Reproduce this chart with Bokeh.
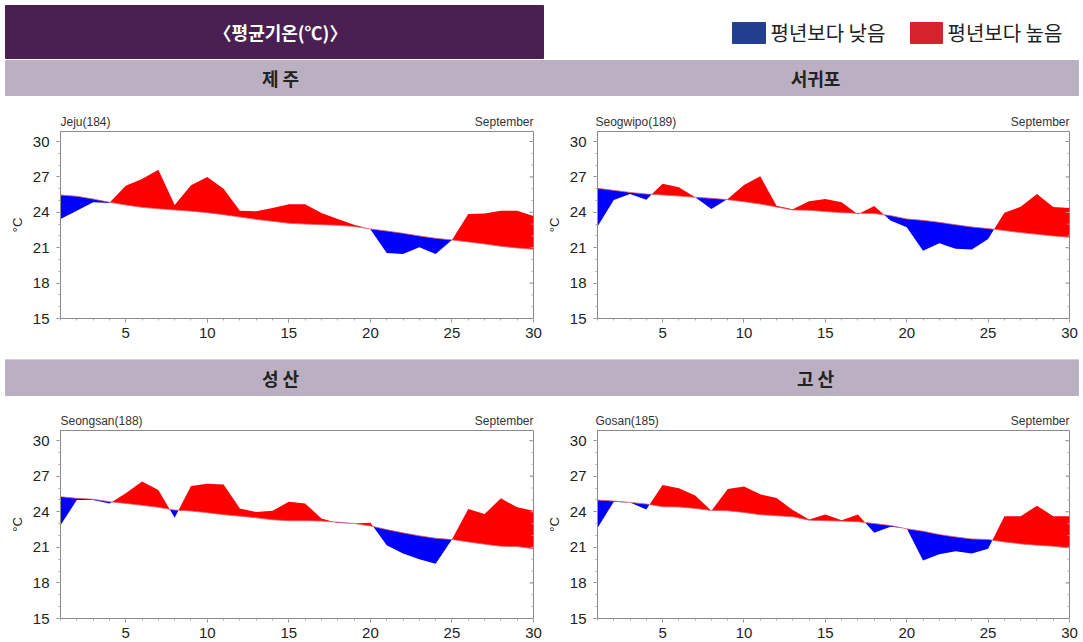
import numpy as np
from bokeh.plotting import figure
from bokeh.layouts import column, row
from bokeh.models import Range1d, FixedTicker
from bokeh.embed import file_html
from bokeh.resources import INLINE
from bokeh.core.properties import value

# ---------------- data ----------------
days = list(range(1, 31))

jeju_obs = [23.43, 24.14, 24.85, 24.80, 26.26, 26.82, 27.60, 24.62, 26.30, 27.00,
            26.00, 24.14, 24.08, 24.37, 24.68, 24.68, 23.94, 23.43, 22.95, 22.56,
            20.55, 20.47, 21.03, 20.47, 21.66, 23.86, 23.89, 24.14, 24.14, 23.69]
jeju_norm = [25.47, 25.36, 25.13, 24.85, 24.62, 24.42, 24.30, 24.20, 24.10, 23.97,
             23.80, 23.60, 23.40, 23.24, 23.07, 23.00, 22.95, 22.90, 22.80, 22.59,
             22.42, 22.22, 22.00, 21.80, 21.66, 21.49, 21.32, 21.12, 20.98, 20.86]

seogwipo_obs = [22.79, 25.05, 25.55, 25.07, 26.43, 26.12, 25.27, 24.28, 25.13, 26.32,
                27.05, 24.55, 24.25, 24.93, 25.13, 24.85, 23.83, 24.54, 23.30, 22.73,
                20.75, 21.37, 20.92, 20.84, 21.74, 23.97, 24.48, 25.55, 24.45, 24.37]
seogwipo_norm = [26.03, 25.86, 25.69, 25.55, 25.47, 25.38, 25.27, 25.19, 25.07, 24.90,
                 24.70, 24.45, 24.20, 24.17, 24.06, 23.97, 23.92, 23.89, 23.72, 23.44,
                 23.32, 23.15, 22.95, 22.76, 22.62, 22.45, 22.28, 22.14, 22.00, 21.88]

seongsan_obs = [22.87, 24.99, 24.99, 24.70, 25.55, 26.54, 25.84, 23.49, 26.18, 26.37,
                26.29, 24.28, 23.97, 24.08, 24.85, 24.70, 23.44, 23.05, 23.01, 23.07,
                21.18, 20.47, 19.99, 19.62, 21.66, 24.23, 23.80, 25.13, 24.37, 24.08]
seongsan_norm = [25.27, 25.13, 25.05, 24.85, 24.70, 24.54, 24.37, 24.14, 24.06, 23.92,
                 23.75, 23.63, 23.49, 23.32, 23.24, 23.24, 23.21, 23.12, 23.01, 22.80,
                 22.50, 22.22, 21.97, 21.77, 21.66, 21.46, 21.26, 21.09, 21.06, 20.89]

gosan_obs = [22.64, 24.85, 24.79, 24.20, 26.26, 25.98, 25.36, 24.08, 25.92, 26.12,
             25.47, 25.16, 24.14, 23.35, 23.77, 23.29, 23.77, 22.22, 22.73, 22.59,
             19.90, 20.41, 20.67, 20.47, 20.89, 23.63, 23.63, 24.51, 23.63, 23.63]
gosan_norm = [24.99, 24.90, 24.79, 24.65, 24.42, 24.40, 24.28, 24.11, 24.08, 23.94,
              23.75, 23.66, 23.58, 23.29, 23.24, 23.21, 23.15, 23.01, 22.84, 22.56,
              22.36, 22.08, 21.88, 21.71, 21.66, 21.46, 21.29, 21.18, 21.09, 20.95]

station_titles = ["제 주", "서귀포", "성 산", "고 산"]
station_labels = ["Jeju(184)", "Seogwipo(189)", "Seongsan(188)", "Gosan(185)"]
month_label = "September"
chart_title = "〈평균기온(℃)〉"
legend_labels = ["평년보다 낮음", "평년보다 높음"]
x_ticks = [5, 10, 15, 20, 25, 30]
y_ticks = [15, 18, 21, 24, 27, 30]
y_minor = list(range(15, 31))

# ---------------- style ----------------
PURPLE = "#4a1f52"
SECTION = "#bbb0c1"
LEG_BLUE = "#233f8f"
LEG_RED = "#d6232b"
FILL_BLUE = "#0000ff"
FILL_RED = "#ff0000"
KFONT = "Noto Sans CJK KR"
AFONT = "Liberation Sans"
W = 1083
# frame edges (page pixels) of the left / right panels, for the small panel captions
FRAME_L = (60, 595)
FRAME_R = (533, 1069)


def header_fig(height):
    h = figure(width=W, height=height, x_range=Range1d(0, W), y_range=Range1d(height, 0),
               toolbar_location=None, output_backend="svg", min_border=0,
               x_axis_location=None, y_axis_location=None)
    h.grid.visible = False
    h.outline_line_color = None
    return h


def captions(h, y, labels):
    h.text(x=list(FRAME_L), y=[y, y], text=labels, text_align="left", text_baseline="bottom",
           text_color="#333333", text_font=value(AFONT), text_font_size="12px")
    h.text(x=list(FRAME_R), y=[y, y], text=[month_label, month_label], text_align="right",
           text_baseline="bottom", text_color="#333333", text_font=value(AFONT),
           text_font_size="12px")


# top header: title bar, legend, first section bar, captions of the upper panels
h1 = header_fig(130)
h1.quad(left=[5], right=[543], top=[5], bottom=[58], color=PURPLE)
h1.text(x=[280], y=[31], text=[chart_title], text_align="center", text_baseline="middle",
        text_color="white", text_font=value(KFONT), text_font_style="bold", text_font_size="18px")
h1.quad(left=[732], right=[765], top=[22], bottom=[43], color=LEG_BLUE)
h1.text(x=[770], y=[32], text=[legend_labels[0]], text_align="left", text_baseline="middle",
        text_color="#222222", text_font=value(KFONT), text_font_size="20px")
h1.quad(left=[910], right=[942], top=[22], bottom=[43], color=LEG_RED)
h1.text(x=[947], y=[32], text=[legend_labels[1]], text_align="left", text_baseline="middle",
        text_color="#222222", text_font=value(KFONT), text_font_size="20px")
h1.quad(left=[5], right=[1078], top=[60], bottom=[95], color=SECTION)
h1.text(x=[280, 815], y=[77, 77], text=station_titles[:2], text_align="center",
        text_baseline="middle", text_color="#222222", text_font=value(KFONT),
        text_font_style="bold", text_font_size="18px")
captions(h1, 128, station_labels[:2])

# second section bar + captions of the lower panels
h2 = header_fig(70)
h2.quad(left=[5], right=[1078], top=[0], bottom=[36], color=SECTION)
h2.text(x=[280, 815], y=[18, 18], text=station_titles[2:], text_align="center",
        text_baseline="middle", text_color="#222222", text_font=value(KFONT),
        text_font_style="bold", text_font_size="18px")
captions(h2, 68, station_labels[2:])


def split_fill(x, obs, norm):
    xs, o, n = [x[0]], [obs[0]], [norm[0]]
    for i in range(1, len(x)):
        d0 = obs[i - 1] - norm[i - 1]
        d1 = obs[i] - norm[i]
        if d0 * d1 < 0:
            t = d0 / (d0 - d1)
            xc = x[i - 1] + t * (x[i] - x[i - 1])
            yc = norm[i - 1] + t * (norm[i] - norm[i - 1])
            xs.append(xc); o.append(yc); n.append(yc)
        xs.append(x[i]); o.append(obs[i]); n.append(norm[i])
    return np.array(xs), np.array(o), np.array(n)


def panel(obs, norm, width, height, bl, br, bt, bb):
    p = figure(width=width, height=height, x_range=Range1d(1, 30), y_range=Range1d(15, 30.85),
               toolbar_location=None, output_backend="svg",
               min_border_left=bl, min_border_right=br, min_border_top=bt, min_border_bottom=bb)
    p.grid.visible = False
    p.outline_line_color = "#8a8a8a"
    p.outline_line_width = 1
    xs, o, n = split_fill(days, obs, norm)
    p.varea(x=xs, y1=n, y2=np.maximum(o, n), color=FILL_RED)
    p.varea(x=xs, y1=n, y2=np.minimum(o, n), color=FILL_BLUE)
    p.line(days, norm, line_color="#e06060", line_width=0.8)

    # right-hand tick marks (frame box ticks, no labels)
    p.scatter(x=[30] * len(y_ticks), y=y_ticks, marker="dash", size=8,
              line_color="#8a8a8a", line_width=1)
    p.scatter(x=[30] * len(y_minor), y=y_minor, marker="dash", size=4,
              line_color="#aaaaaa", line_width=1)

    p.xaxis.ticker = FixedTicker(ticks=x_ticks, minor_ticks=days)
    p.yaxis.ticker = FixedTicker(ticks=y_ticks, minor_ticks=y_minor)
    for ax in p.axis:
        ax.axis_line_color = "#8a8a8a"
        ax.major_tick_line_color = "#8a8a8a"
        ax.minor_tick_line_color = "#aaaaaa"
        ax.major_tick_out = 4
        ax.major_tick_in = 0
        ax.minor_tick_out = 2
        ax.minor_tick_in = 0
        ax.major_label_text_font = AFONT
        ax.major_label_text_font_size = "15px"
        ax.major_label_text_color = "#222222"
    p.xaxis.major_label_standoff = 5
    p.yaxis.major_label_standoff = 7
    p.yaxis.axis_label = "°C"
    p.yaxis.axis_label_text_font = AFONT
    p.yaxis.axis_label_text_font_style = "normal"
    p.yaxis.axis_label_text_font_size = "13px"
    p.yaxis.axis_label_text_color = "#222222"
    p.yaxis.axis_label_standoff = 5
    return p


p1 = panel(jeju_obs, jeju_norm, 543, 229, 60, 10, 1, 41)
p2 = panel(seogwipo_obs, seogwipo_norm, 540, 229, 52, 14, 1, 41)
p3 = panel(seongsan_obs, seongsan_norm, 543, 213, 60, 10, 1, 24)
p4 = panel(gosan_obs, gosan_norm, 540, 213, 52, 14, 1, 24)

layout = column(h1, row(p1, p2), h2, row(p3, p4))
open("out.html", "w").write(file_html(layout, INLINE))
